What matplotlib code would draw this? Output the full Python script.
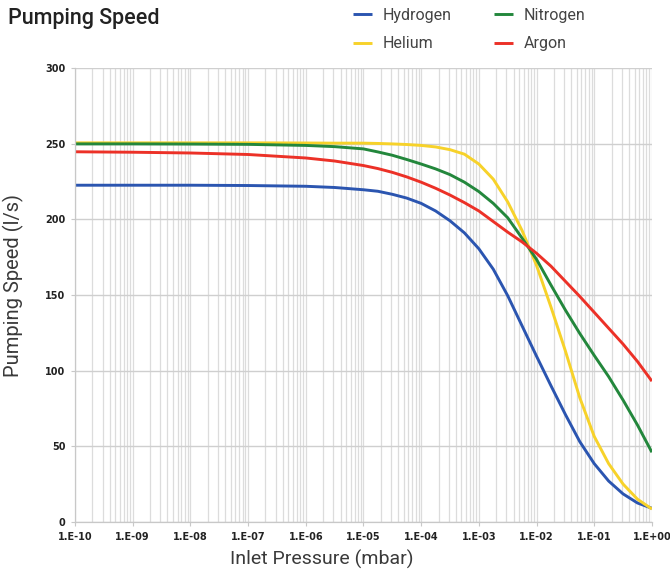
import numpy as np
import matplotlib
matplotlib.use('Agg')
import matplotlib.pyplot as plt
from matplotlib.ticker import FixedLocator, LogLocator, NullFormatter

# --- DATA ---
log_p = [-10, -9, -8, -7, -6, -5.5, -5, -4.75, -4.5, -4.25, -4, -3.75, -3.5, -3.25, -3,
         -2.75, -2.5, -2.25, -2, -1.75, -1.5, -1.25, -1, -0.75, -0.5, -0.25, 0]
pressure = [10.0 ** v for v in log_p]

hydrogen = [222.5, 222.5, 222.5, 222.3, 221.8, 221, 219.5, 218.5, 216.5, 214, 210.5, 205.5, 199, 191, 180.5,
            167, 149.5, 129.5, 109.5, 90, 71, 53, 38.5, 27, 18.5, 12.5, 9]
helium = [250.5, 250.5, 250.5, 250.5, 250.4, 250.3, 250.3, 250.1, 249.8, 249.4, 248.8, 247.8, 246, 243, 236.5,
          226.5, 211.5, 192.5, 169.5, 142, 113, 82, 56.5, 38.5, 25, 15, 8.5]
nitrogen = [249.8, 249.8, 249.7, 249.5, 248.8, 248, 246.5, 244.5, 242.3, 239.5, 236.5, 233.3, 229.5, 224.5, 218.3,
            210.5, 201, 187.5, 173.5, 156.5, 140, 124.5, 110, 96, 80.5, 64, 46]
argon = [244.6, 244.3, 243.8, 242.8, 240.5, 238.5, 235.5, 233.5, 231, 228, 224.5, 220.5, 216, 211, 205.5,
         198.5, 191.5, 185, 177.5, 169, 159, 149, 138.5, 128, 117.5, 106, 93]

x_ticks = [1e-10, 1e-9, 1e-8, 1e-7, 1e-6, 1e-5, 1e-4, 1e-3, 1e-2, 1e-1, 1e0]
x_labels = ['1.E-10', '1.E-09', '1.E-08', '1.E-07', '1.E-06', '1.E-05',
            '1.E-04', '1.E-03', '1.E-02', '1.E-01', '1.E+00']
y_ticks = [0, 50, 100, 150, 200, 250, 300]

series = [('Hydrogen', hydrogen, '#2b55b0'),
          ('Helium', helium, '#f7d22a'),
          ('Nitrogen', nitrogen, '#23873c'),
          ('Argon', argon, '#ec3127')]

# --- PLOT ---
fig = plt.figure(figsize=(6.7, 5.71), dpi=100)
ax = fig.add_axes([0.112, 0.086, 0.861, 0.795])

for name, vals, col in series:
    ax.plot(pressure, vals, color=col, linewidth=2.1, label=name,
            solid_capstyle='butt', solid_joinstyle='round')

ax.set_xscale('log')
ax.set_xlim(1e-10, 1)
ax.set_ylim(0, 300)

ax.xaxis.set_major_locator(FixedLocator(x_ticks))
ax.set_xticklabels(x_labels)
ax.xaxis.set_minor_locator(LogLocator(base=10, subs=np.arange(2, 10), numticks=100))
ax.xaxis.set_minor_formatter(NullFormatter())
ax.set_yticks(y_ticks)

ax.grid(True, which='both', axis='x', color='#dcdcdc', linewidth=0.9)
ax.grid(True, which='major', axis='y', color='#cfcfcf', linewidth=1.0)
ax.set_axisbelow(True)

for s in ['top', 'right']:
    ax.spines[s].set_visible(False)
for s in ['left', 'bottom']:
    ax.spines[s].set_color('#c8c8c8')
    ax.spines[s].set_linewidth(0.9)

tick_font = ['Liberation Sans Narrow', 'DejaVu Sans']
ax.tick_params(axis='both', which='major', length=3, color='#c8c8c8', labelsize=7, pad=4)
ax.tick_params(axis='x', which='minor', length=0)
for lab in ax.get_xticklabels() + ax.get_yticklabels():
    lab.set_fontweight('bold')
    lab.set_family(tick_font)
    lab.set_color('#222222')

ax.set_xlabel('Inlet Pressure (mbar)', fontsize=14, family='Roboto', color='#3a3a3a')
ax.set_ylabel('Pumping Speed (l/s)', fontsize=14.5, family='Roboto', color='#3a3a3a')
# the reference labels sit a little off-centre
ax.xaxis.set_label_coords(0.428, -0.062)
ax.yaxis.set_label_coords(-0.088, 0.52)

fig.text(0.012, 0.968, 'Pumping Speed', fontsize=15.5, family='Roboto', fontweight='medium',
         color='#222222', va='center', ha='left')

leg = fig.legend(handles=ax.lines, loc='upper left', bbox_to_anchor=(0.505, 1.012), ncol=2,
                 frameon=False, handlelength=1.2, handletextpad=0.7, columnspacing=2.6,
                 labelspacing=0.85, prop={'family': 'Roboto', 'size': 11.5})
for t in leg.get_texts():
    t.set_color('#444444')

fig.savefig('out.png', dpi=100)
